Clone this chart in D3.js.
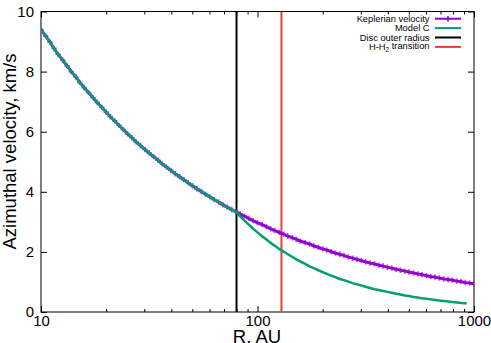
<!DOCTYPE html>
<html><head><meta charset="utf-8">
<script src="https://cdn.jsdelivr.net/npm/d3@7"></script>
<style>body{margin:0;background:#fff}svg{display:block;font-family:"Liberation Sans",Arial,Helvetica,sans-serif}</style>
</head><body><svg id="c" width="491" height="343"></svg>
<script>
// ---- data ----
const keplerR = [10,10.5,11.0,11.5,12.0,12.6,13.2,13.8,14.5,15.1,
  15.8,16.6,17.4,18.2,19.1,20.0,20.9,21.9,22.9,24.0,
  25.1,26.3,27.5,28.8,30.2,31.6,33.1,34.7,36.3,38.0,
  39.8,41.7,43.7,45.7,47.9,50.1,52.5,55.0,57.5,60.3,
  63.1,66.1,69.2,72.4,75.9,79.4,83.2,87.1,91.2,95.5,
  100,105,110,115,120,126,132,138,145,151,
  158,166,174,182,191,200,209,219,229,240,
  251,263,275,288,302,316,331,347,363,380,
  398,417,437,457,479,501,525,550,575,603,
  631,661,692,724,759,794,832,871,912,955,1000];
const keplerV = [9.40,9.19,8.98,8.77,8.57,8.38,8.19,8.00,7.82,7.64,
  7.47,7.30,7.13,6.97,6.81,6.65,6.50,6.36,6.21,6.07,
  5.93,5.80,5.66,5.54,5.41,5.29,5.17,5.05,4.93,4.82,
  4.71,4.60,4.50,4.40,4.30,4.20,4.10,4.01,3.92,3.83,
  3.74,3.66,3.57,3.49,3.41,3.34,3.26,3.19,3.11,3.04,
  2.97,2.91,2.84,2.77,2.71,2.65,2.59,2.53,2.47,2.42,
  2.36,2.31,2.26,2.20,2.15,2.10,2.06,2.01,1.96,1.92,
  1.88,1.83,1.79,1.75,1.71,1.67,1.63,1.60,1.56,1.53,
  1.49,1.46,1.42,1.39,1.36,1.33,1.30,1.27,1.24,1.21,
  1.18,1.16,1.13,1.10,1.08,1.06,1.03,1.01,0.98,0.96,0.94];
const modelCR = [10,10.5,11.0,11.5,12.0,12.6,13.2,13.8,14.5,15.1,
  15.8,16.6,17.4,18.2,19.1,20.0,20.9,21.9,22.9,24.0,
  25.1,26.3,27.5,28.8,30.2,31.6,33.1,34.7,36.3,38.0,
  39.8,41.7,43.7,45.7,47.9,50.1,52.5,55.0,57.5,60.3,
  63.1,66.1,69.2,72.4,75.9,79.4,83.2,87.1,91.2,95.5,
  100,105,110,115,120,126,132,138,145,151,
  158,166,174,182,191,200,209,219,229,240,
  251,263,275,288,302,316,331,347,363,380,
  398,417,437,457,479,501,525,550,575,603,
  631,661,692,724,759,794,832,871,912,925];
const modelCV = [9.40,9.19,8.98,8.77,8.57,8.38,8.19,8.00,7.82,7.64,
  7.47,7.30,7.13,6.97,6.81,6.65,6.50,6.36,6.21,6.07,
  5.93,5.80,5.66,5.54,5.41,5.29,5.17,5.05,4.93,4.82,
  4.71,4.60,4.50,4.40,4.30,4.20,4.10,4.01,3.92,3.83,
  3.74,3.66,3.57,3.49,3.41,3.34,3.18,3.04,2.91,2.77,
  2.65,2.52,2.41,2.30,2.21,2.10,2.01,1.92,1.83,1.75,
  1.68,1.60,1.52,1.46,1.39,1.33,1.27,1.21,1.16,1.10,
  1.06,1.01,0.96,0.92,0.88,0.84,0.80,0.76,0.73,0.70,
  0.67,0.64,0.61,0.58,0.55,0.53,0.50,0.48,0.46,0.44,
  0.42,0.40,0.38,0.37,0.35,0.33,0.32,0.30,0.29,0.29];
const discOuterRadius = 80;
const hh2Transition = 129;
const xMajorTicks = [10,100,1000];
const xMinorTicks = [20,30,40,50,60,70,80,90,200,300,400,500,600,700,800,900];
const yTicks = [0,2,4,6,8,10];
const legendLabels = ["Keplerian velocity","Model C","Disc outer radius","H-H2 transition"];

// ---- layout ----
const W = 491, H = 343;
const L = 41, R = 474, T = 11.5, B = 312;
const colKep = "#9400d3", colC = "#009e73", colDisc = "#000000", colHH = "#e8412f";

const svg = d3.select("#c");
const x = d3.scaleLog().domain([10,1000]).range([L,R]);
const y = d3.scaleLinear().domain([0,10]).range([B,T]);

svg.append("defs").append("clipPath").attr("id","pc")
  .append("rect").attr("x",L).attr("y",T).attr("width",R-L).attr("height",B-T);

// axes / ticks
const fmt = d => String(d);
const gB = svg.append("g").attr("transform",`translate(0,${B})`)
  .call(d3.axisBottom(x).tickValues(xMajorTicks).tickFormat(fmt).tickSize(-6).tickPadding(3));
const gBm = svg.append("g").attr("transform",`translate(0,${B})`)
  .call(d3.axisBottom(x).tickValues(xMinorTicks).tickFormat("").tickSize(-3));
const gT = svg.append("g").attr("transform",`translate(0,${T})`)
  .call(d3.axisTop(x).tickValues(xMajorTicks).tickFormat("").tickSize(-6));
const gTm = svg.append("g").attr("transform",`translate(0,${T})`)
  .call(d3.axisTop(x).tickValues(xMinorTicks).tickFormat("").tickSize(-3));
const gL = svg.append("g").attr("transform",`translate(${L},0)`)
  .call(d3.axisLeft(y).tickValues(yTicks).tickFormat(fmt).tickSize(-6).tickPadding(7));
const gR = svg.append("g").attr("transform",`translate(${R},0)`)
  .call(d3.axisRight(y).tickValues(yTicks).tickFormat("").tickSize(-6));
[gB,gBm,gT,gTm,gL,gR].forEach(g=>{
  g.select(".domain").remove();
  g.selectAll(".tick line").attr("stroke","#000").attr("stroke-width",1);
  g.selectAll("text").attr("font-size",15).attr("fill","#000")
    .attr("font-family",'"Liberation Sans",Arial,sans-serif');
});

// plot box
svg.append("rect").attr("x",L).attr("y",T).attr("width",R-L).attr("height",B-T)
  .attr("fill","none").attr("stroke","#000").attr("stroke-width",1);

const plot = svg.append("g").attr("clip-path","url(#pc)");

// vertical lines
plot.append("line").attr("x1",x(discOuterRadius)).attr("x2",x(discOuterRadius))
  .attr("y1",T).attr("y2",B).attr("stroke",colDisc).attr("stroke-width",2);
plot.append("line").attr("x1",x(hh2Transition)).attr("x2",x(hh2Transition))
  .attr("y1",T).attr("y2",B).attr("stroke",colHH).attr("stroke-width",2);

// Keplerian with markers
const kep = keplerR.map((r,i)=>[r,keplerV[i]]);
const line = d3.line().x(d=>x(d[0])).y(d=>y(d[1]));
plot.append("path").datum(kep).attr("d",line).attr("fill","none")
  .attr("stroke",colKep).attr("stroke-width",2.8);
const ms = 2.7;
plot.append("g").selectAll("path").data(kep).join("path")
  .attr("d",d=>{const cx=x(d[0]),cy=y(d[1]);return `M${cx-ms},${cy}H${cx+ms}M${cx},${cy-ms}V${cy+ms}`;})
  .attr("stroke",colKep).attr("stroke-width",1.7).attr("stroke-opacity",0.7).attr("fill","none");

// Model C
const mc = modelCR.map((r,i)=>[r,modelCV[i]]);
plot.append("path").datum(mc).attr("d",line).attr("fill","none")
  .attr("stroke",colC).attr("stroke-width",2.5);

// legend
const lg = svg.append("g").attr("font-size",9.3).attr("fill","#000");
const rows = [18.7,28.1,37.5,46.9];
const lcols = [colKep,colC,colDisc,colHH];
rows.forEach((ry,i)=>{
  const t = lg.append("text").attr("x",429.5).attr("y",ry).attr("dy","0.33em")
    .attr("text-anchor","end");
  if(i===3){
    t.append("tspan").text("H-H");
    t.append("tspan").attr("font-size",6.5).attr("dy","0.3em").text("2");
    t.append("tspan").attr("dy","-0.3em").text(" transition");
  } else t.text(legendLabels[i]);
  lg.append("line").attr("x1",435).attr("x2",461).attr("y1",ry).attr("y2",ry)
    .attr("stroke",lcols[i]).attr("stroke-width",2);
  if(i===0){
    const cx=448;
    lg.append("path").attr("d",`M${cx-ms},${ry}H${cx+ms}M${cx},${ry-ms}V${ry+ms}`)
      .attr("stroke",colKep).attr("stroke-width",1.6);
  }
});

// axis titles
svg.append("text").attr("x",257).attr("y",342.5).attr("text-anchor","middle")
  .attr("font-size",18.5).attr("fill","#000").text("R. AU");
svg.append("text").attr("transform","translate(16,151.5) rotate(-90)")
  .attr("text-anchor","middle").attr("font-size",18.5).attr("fill","#000")
  .text("Azimuthal velocity, km/s");
</script></body></html>
